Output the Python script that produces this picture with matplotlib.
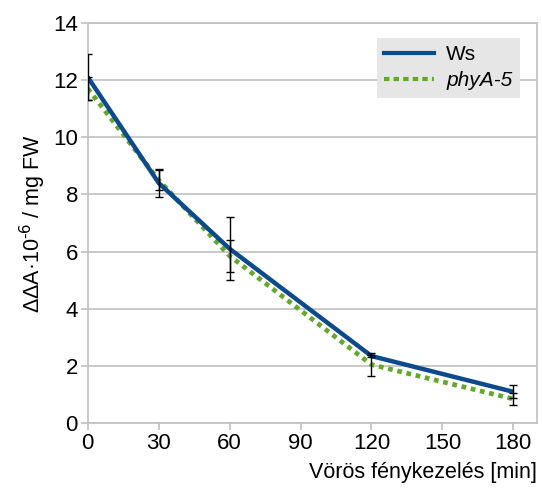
import matplotlib
matplotlib.use('Agg')
import matplotlib.pyplot as plt
from matplotlib.lines import Line2D

# adatok
ido = [0, 30, 60, 120, 180]
ws = [12.1, 8.4, 6.1, 2.35, 1.1]
ws_hiba = [0.8, 0.5, 1.1, 0.05, 0.23]
phya = [11.7, 8.5, 5.85, 2.05, 0.85]
phya_hiba = [0.4, 0.35, 0.55, 0.4, 0.2]
x_ticks = [0, 30, 60, 90, 120, 150, 180]
y_ticks = [0, 2, 4, 6, 8, 10, 12, 14]

kek = '#0c4a8c'
zold = '#62a82a'
szurke = '#c0c0c0'

def main():
    plt.rcParams['font.family'] = ['Liberation Sans', 'DejaVu Sans']
    fig = plt.figure(figsize=(5.42, 4.93), dpi=100)
    ax = fig.add_axes([0.1618, 0.1414, 0.829, 0.8126])

    ax.plot(ido, ws, color=kek, lw=3.2, solid_capstyle='butt', zorder=3)
    ax.plot(ido, phya, color=zold, lw=3.4, linestyle=(0, (1, 1)), zorder=2)

    # hibasavok
    ax.errorbar(ido, ws, yerr=ws_hiba, fmt='none', ecolor='black',
                elinewidth=1, capsize=3, capthick=1, zorder=4)
    ax.errorbar(ido, phya, yerr=phya_hiba, fmt='none', ecolor='black',
                elinewidth=1, capsize=3, capthick=1, zorder=4)

    ax.set_xlim(0, 190)
    ax.set_ylim(0, 14)
    ax.set_xticks(x_ticks)
    ax.set_yticks(y_ticks)
    ax.tick_params(labelsize=16, color=szurke, length=5, width=1.2, pad=2)
    ax.grid(axis='y', color=szurke, lw=1.2)
    ax.set_axisbelow(True)
    for s in ax.spines.values():
        s.set_color(szurke)
        s.set_linewidth(1.2)

    ax.set_ylabel(r'ΔΔA·10$^{\text{-}6}$ / mg FW', fontsize=15.5, labelpad=4)
    ax.set_xlabel('Vörös fénykezelés [min]', fontsize=15.5, loc='right', labelpad=6)

    jelek = [Line2D([], [], color=kek, lw=3),
             Line2D([], [], color=zold, lw=3, linestyle=(0, (1.3, 1)))]
    leg = ax.legend(jelek, ['Ws', 'phyA-5'], loc='upper right',
                    bbox_to_anchor=(0.962, 0.962), borderaxespad=0,
                    fontsize=15, frameon=True, fancybox=False,
                    handlelength=2.4, borderpad=0.35, labelspacing=0.35,
                    handletextpad=0.6)
    leg.get_frame().set_facecolor('#e6e6e6')
    leg.get_frame().set_edgecolor('none')
    leg.get_frame().set_alpha(1)
    leg.get_texts()[1].set_style('italic')

    fig.savefig('out.png', dpi=100)

if __name__ == '__main__':
    main()
